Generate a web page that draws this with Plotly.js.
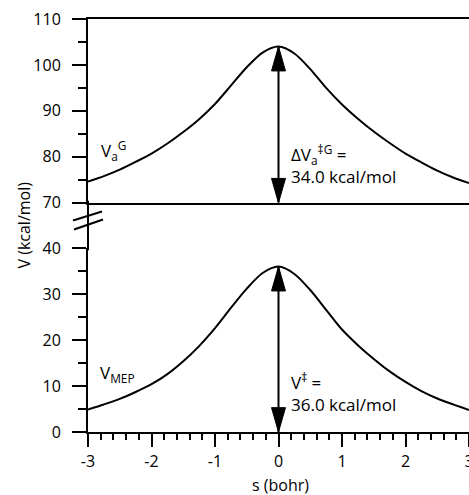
<!DOCTYPE html>
<html><head><meta charset="utf-8">
<script src="https://cdn.plot.ly/plotly-3.0.1.min.js"></script>
<style>html,body{margin:0;padding:0;overflow:hidden;background:#fff}</style>
</head><body><div id="chart" style="width:469px;height:495px"></div>
<script>
// ---- data ----
const s    = [-3, -2.75, -2.5, -2.25, -2, -1.75, -1.5, -1.25, -1, -0.75, -0.5, -0.25, 0,
              0.25, 0.5, 0.75, 1, 1.25, 1.5, 1.75, 2, 2.25, 2.5, 2.75, 3];
const vaG  = [74.6, 75.8, 77.2, 78.9, 80.7, 82.9, 85.4, 88.2, 91.5, 95.5, 99.5, 102.7, 104.0,
              102.5, 99.1, 95.0, 91.4, 88.3, 85.5, 83.0, 80.7, 78.8, 77.0, 75.5, 74.3];
const vMEP = [4.9, 6.0, 7.2, 8.7, 10.4, 12.6, 15.4, 18.7, 22.6, 27.0, 31.2, 34.6, 36.0,
              34.4, 30.9, 26.6, 22.3, 18.9, 15.9, 13.2, 10.9, 8.9, 7.3, 6.0, 4.8];
const barrierS   = [0];
const vaGBarrier = [70, 104];   // base, peak
const mepBarrier = [0, 36];     // base, peak
const xTicks       = [-3, -2, -1, 0, 1, 2, 3];
const yTicksTop    = [70, 80, 90, 100, 110];
const yTicksBottom = [0, 10, 20, 30, 40];
const labelVaG  = 'V<sub>a</sub><sup>G</sup>';
const labelMEP  = 'V<sub>MEP</sub>';
const labelDVa  = 'ΔV<sub>a</sub><sup>‡G</sup> =<br>34.0 kcal/mol';
const labelVdag = 'V<sup>‡</sup> =<br>36.0 kcal/mol';
const xTitle = 's (bohr)';
const yTitle = 'V (kcal/mol)';

// ---- styling constants ----
const FONT = 'Open Sans, Lato, sans-serif';
const headHalfW = 0.11;   // s units
const headLen = 5.3;      // V units

function headTrace(x0, tip, dir, xa, ya) {
  const b = tip - dir * headLen;
  return {x:[x0 - headHalfW, x0 + headHalfW, x0, x0 - headHalfW], y:[b, b, tip, b],
    mode:'lines', fill:'toself', fillcolor:'#000', line:{color:'#000', width:1},
    xaxis:xa, yaxis:ya, hoverinfo:'skip', showlegend:false};
}
const curveLine = {color:'#000', width:2, shape:'spline', smoothing:0.8};

const traces = [
  {x:s, y:vMEP, mode:'lines', line:curveLine, xaxis:'x', yaxis:'y', showlegend:false},
  {x:s, y:vaG,  mode:'lines', line:curveLine, xaxis:'x2', yaxis:'y2', showlegend:false},
  {x:[barrierS[0], barrierS[0]], y:mepBarrier, mode:'lines', line:{color:'#000', width:2}, xaxis:'x', yaxis:'y', showlegend:false},
  {x:[barrierS[0], barrierS[0]], y:vaGBarrier, mode:'lines', line:{color:'#000', width:2}, xaxis:'x2', yaxis:'y2', showlegend:false},
  headTrace(barrierS[0], mepBarrier[1], 1, 'x', 'y'),
  headTrace(barrierS[0], mepBarrier[0], -1, 'x', 'y'),
  headTrace(barrierS[0], vaGBarrier[1], 1, 'x2', 'y2'),
  headTrace(barrierS[0], vaGBarrier[0], -1, 'x2', 'y2'),
];

const yCommon = {showline:true, linewidth:2, linecolor:'#000', ticks:'outside', ticklen:14, tickwidth:2, tickcolor:'#000',
  showgrid:false, zeroline:false, tickfont:{size:16, color:'#000'}, ticklabelstandoff:8};
const yMinor = {dtick:5, ticks:'outside', ticklen:8, tickwidth:2, tickcolor:'#000', showgrid:false};

const layout = {
  width:469, height:495, margin:{l:88, r:0, t:19, b:63},
  paper_bgcolor:'#fff', plot_bgcolor:'#fff', showlegend:false,
  font:{family:FONT, color:'#000', size:16},
  xaxis:{domain:[0,1], range:[-3,3], anchor:'y', showline:true, linewidth:2, linecolor:'#000',
    ticks:'outside', ticklen:13, tickwidth:2, tickcolor:'#000', tickvals:xTicks, ticktext:xTicks.map(String),
    minor:{tick0:-3, dtick:0.2, ticks:'outside', ticklen:6, tickwidth:2, tickcolor:'#000', showgrid:false},
    showgrid:false, zeroline:false, tickfont:{size:16}, ticklabelstandoff:1, ticklabeloverflow:'allow'},
  yaxis:Object.assign({}, yCommon, {domain:[0,0.445], range:[0,40], anchor:'x', tickvals:yTicksBottom,
    minor:Object.assign({}, yMinor, {tick0:0})}),
  xaxis2:{domain:[0,1], range:[-3,3], anchor:'y2', matches:'x', showline:true, mirror:true, linewidth:2, linecolor:'#000',
    ticks:'', showticklabels:false, showgrid:false, zeroline:false},
  yaxis2:Object.assign({}, yCommon, {domain:[0.555,1], range:[70,110], anchor:'x2', tickvals:yTicksTop,
    minor:Object.assign({}, yMinor, {tick0:70})}),
  shapes:[
    {type:'line', xref:'paper', yref:'paper', x0:0, x1:0, y0:0.44, y1:0.56, xshift:-1, line:{color:'#000', width:2}},
    {type:'line', xref:'paper', yref:'paper', xsizemode:'pixel', ysizemode:'pixel', xanchor:0, yanchor:0.5,
      x0:-15, x1:14, y0:5, y1:14, line:{color:'#000', width:2}},
    {type:'line', xref:'paper', yref:'paper', xsizemode:'pixel', ysizemode:'pixel', xanchor:0, yanchor:0.5,
      x0:-14, x1:15, y0:-4, y1:6, line:{color:'#000', width:2}},
  ],
  annotations:[
    {text:labelVaG, xref:'x2', yref:'y2', x:-2.83, y:81.3, xanchor:'left', yanchor:'middle', showarrow:false, font:{size:17}},
    {text:labelMEP, xref:'x', yref:'y', x:-2.85, y:12.8, xanchor:'left', yanchor:'middle', showarrow:false, font:{size:17}},
    {text:labelDVa, xref:'x2', yref:'y2', x:0.16, y:78.4, xanchor:'left', yanchor:'middle', align:'left', showarrow:false, font:{size:17}},
    {text:labelVdag, xref:'x', yref:'y', x:0.16, y:8.5, xanchor:'left', yanchor:'middle', align:'left', showarrow:false, font:{size:17}},
    {text:xTitle, xref:'paper', yref:'paper', x:0.5, y:0, yshift:-53, xshift:2, xanchor:'center', yanchor:'middle', showarrow:false, font:{size:16}},
    {text:yTitle, xref:'paper', yref:'paper', x:0, y:0.5, xshift:-65, xanchor:'center', yanchor:'middle', textangle:-90, showarrow:false, font:{size:16}},
  ]
};

Plotly.newPlot('chart', traces, layout, {staticPlot:true, displayModeBar:false});
</script></body></html>
